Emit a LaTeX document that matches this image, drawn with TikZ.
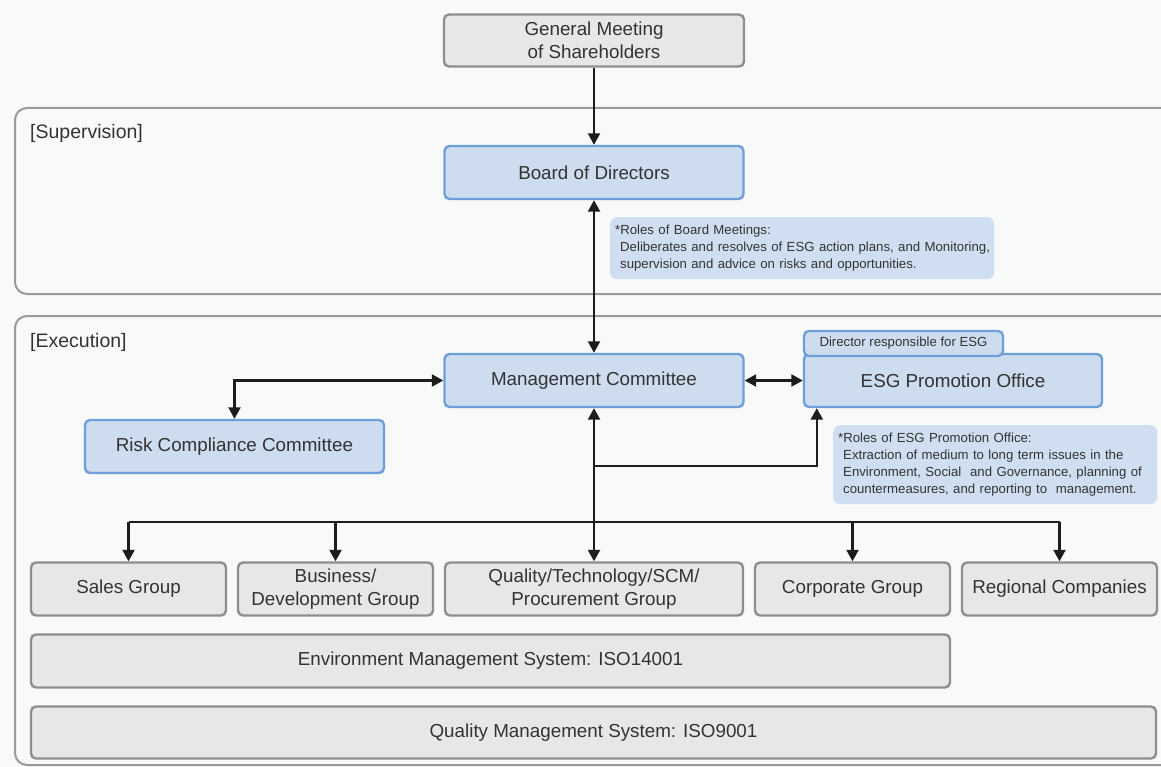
\documentclass[tikz,border=0pt]{standalone}
\usepackage{fontspec}
\setmainfont{Liberation Sans}
\usetikzlibrary{arrows.meta}
\definecolor{pagebg}{HTML}{F8F9F9}
\definecolor{boxgray}{HTML}{E6E7E9}
\definecolor{linegray}{HTML}{8E8E8E}
\definecolor{boxblue}{HTML}{CDDCEF}
\definecolor{lineblue}{HTML}{6E9FD9}
\definecolor{noteblue}{HTML}{CFDFF1}
\definecolor{framegray}{HTML}{9A9A9A}
\definecolor{txt}{HTML}{333333}
\definecolor{wirecol}{HTML}{1C1C1C}
\begin{document}
\begin{tikzpicture}[x=1pt,y=-1pt,
  box/.style={draw, line width=2.4pt, rounded corners=5pt, inner sep=0pt,
    align=center, text=txt, font=\fontsize{18.8}{23}\selectfont},
  graybox/.style={box, fill=boxgray, draw=linegray},
  bluebox/.style={box, fill=boxblue, draw=lineblue},
  note/.style={fill=noteblue, rounded corners=7pt, inner xsep=5pt, inner ysep=0pt,
    align=left, text=txt, font=\fontsize{13.2}{17.2}\selectfont},
  framebox/.style={draw=framegray, line width=2pt, rounded corners=12pt},
  framelabel/.style={anchor=west, inner sep=0pt, text=txt, font=\fontsize{19.5}{23}\selectfont},
  wire/.style={draw=wirecol, line width=2.3pt},
  tip/.tip={Triangle[length=11.5pt,width=12pt]},
  arr/.style={wire, -tip},
  arrboth/.style={wire, tip-tip}
]
\useasboundingbox (0,0) rectangle (1161,767);
\clip (0,0) rectangle (1161,767);
\fill[pagebg] (0,0) rectangle (1161,767);

% frames
\draw[framebox] (15,108) rectangle (1190,294);
\draw[framebox] (15,316) rectangle (1190,765);
\node[framelabel] (suplabel) at (30,133) {[Supervision]};
\node[framelabel] (exelabel) at (30,342) {[Execution]};

% governance chain
\node[graybox, minimum width=300, minimum height=52] (gm) at (594,40.5) {General Meeting\\of Shareholders};
\node[bluebox, minimum width=299, minimum height=53] (bod) at (594,172.5) {Board of Directors};
\node[bluebox, minimum width=299, minimum height=53] (mc) at (594,380.5) {Management Committee};
\node[bluebox, minimum width=298, minimum height=53] (esg) at (953,380.5) {ESG Promotion Office};
\node[bluebox, minimum width=199, minimum height=25, font=\fontsize{13.2}{16}\selectfont] (dir) at (903.5,343.5) {Director responsible for ESG};
\node[bluebox, minimum width=299, minimum height=53] (rcc) at (234.5,446.5) {Risk Compliance Committee};

% notes
\node[note, text width=374, minimum height=62, anchor=north west] (bnote) at (610,217)
 {\mbox{*Roles of Board Meetings:}\\
  \mbox{\hspace*{5pt}Deliberates and resolves of ESG action plans, and Monitoring,}\\
  \mbox{\hspace*{5pt}supervision and advice on risks and opportunities.}};
\node[note, text width=314, minimum height=79, anchor=north west] (enote) at (833,425)
 {\mbox{*Roles of ESG Promotion Office:}\\
  \mbox{\hspace*{5pt}\makebox[309pt][s]{Extraction of medium to long term issues in the}}\\
  \mbox{\hspace*{5pt}\makebox[309pt][s]{Environment, Social\ \ and Governance, planning of}}\\
  \mbox{\hspace*{5pt}countermeasures, and reporting to\ \ management.}};

% business groups
\node[graybox, minimum width=195, minimum height=53] (sg) at (128.5,589) {Sales Group};
\node[graybox, minimum width=195, minimum height=53] (bdg) at (335.5,589) {Business/\\Development Group};
\node[graybox, minimum width=298, minimum height=53] (qg) at (594,589) {Quality/Technology/SCM/\\Procurement Group};
\node[graybox, minimum width=195, minimum height=53] (cg) at (852.5,589) {Corporate Group};
\node[graybox, minimum width=195, minimum height=53] (rc) at (1059.5,589) {Regional Companies};

% management systems
\node[graybox, minimum width=919, minimum height=53] (ems) at (490.5,661) {Environment Management System: ISO14001};
\node[graybox, minimum width=1125, minimum height=52] (qms) at (593.5,732.5) {Quality Management System: ISO9001};

% connectors
\draw[arr] (gm.south) -- (bod.north);
\draw[arrboth] (bod.south) -- (mc.north);
\draw[arrboth] (mc.west) -| (rcc.north);
\draw[arrboth] (mc.east) -- (esg.west);
\draw[arrboth] (mc.south) -- (qg.north);
\coordinate (br) at (594,466);
\draw[arr] (br) -| ([xshift=14pt]esg.south west);
\coordinate (bus) at (594,522);
\draw[wire] (sg.north |- bus) -- (rc.north |- bus);
\draw[arr] (sg.north |- bus) -- (sg.north);
\draw[arr] (bdg.north |- bus) -- (bdg.north);
\draw[arr] (cg.north |- bus) -- (cg.north);
\draw[arr] (rc.north |- bus) -- (rc.north);
\end{tikzpicture}
\end{document}
